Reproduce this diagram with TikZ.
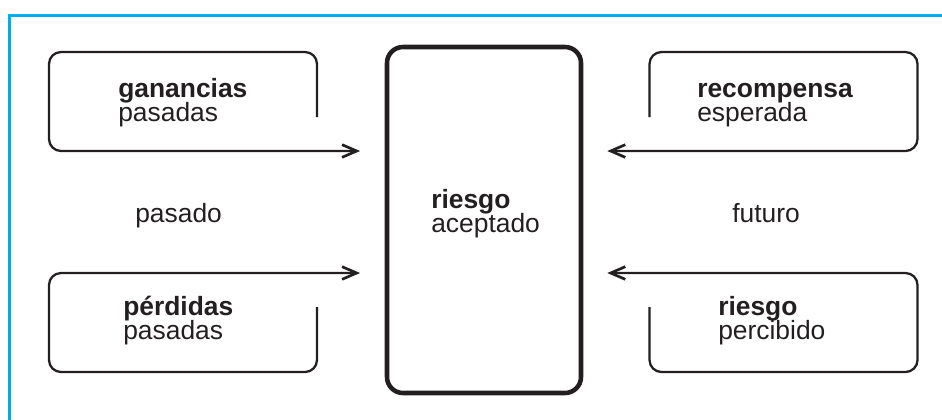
\documentclass[tikz,border=0pt]{standalone}
\usepackage{fontspec}
\setmainfont{Liberation Sans}
\usetikzlibrary{arrows.meta,calc}
\definecolor{ink}{RGB}{35,31,32}
\definecolor{framecyan}{RGB}{0,174,239}
\begin{document}
\begin{tikzpicture}[x=0.75pt,y=-0.75pt,
  boxframe/.style={minimum width=201pt,minimum height=74.25pt,inner sep=0pt,outer sep=0pt},
  loopline/.style={draw=ink,line width=1.7pt,rounded corners=9pt,
    -{Straight Barb[length=11pt,width=9.5pt,line width=2pt]}},
  txt/.style={anchor=base west,inner sep=0pt,align=left,text=ink,
    font={\fontsize{19.8pt}{18pt}\selectfont\lineskiplimit=-30pt}},
  side/.style={anchor=base west,inner sep=0pt,text=ink,
    font=\fontsize{19.8pt}{18pt}\selectfont}]
\useasboundingbox (0,0) rectangle (942,419);
\clip (0,0) rectangle (942,419);

% outer cyan frame
\draw[framecyan,line width=2.25pt] (9,440) -- (9,15) -- (960,15);

% central box
\node[draw=ink,line width=3.4pt,rounded corners=12pt,
      minimum width=145.5pt,minimum height=259.5pt,inner sep=0pt] (acc) at (484,220) {};
% (base anchor of a two-line node sits on its last line)
\node[txt] (acctext) at (431,232) {\textbf{riesgo}\\aceptado};

% frames of the four side boxes
\node[boxframe] (gan)  at (183,101.5) {};
\node[boxframe] (per)  at (183,322.5) {};
\node[boxframe] (rec)  at (783.5,101.5) {};
\node[boxframe] (perc) at (783.5,322.5) {};

% open loops ending in arrows toward the central box
\draw[loopline] ([yshift=-48.75pt]gan.north east) -- (gan.north east) -- (gan.north west)
  -- (gan.south west) -- ([xshift=-18.5pt]acc.west |- gan.south);
\draw[loopline] ([yshift=48.75pt]per.south east) -- (per.south east) -- (per.south west)
  -- (per.north west) -- ([xshift=-18.5pt]acc.west |- per.north);
\draw[loopline] ([yshift=-48.75pt]rec.north west) -- (rec.north west) -- (rec.north east)
  -- (rec.south east) -- ([xshift=18pt]acc.east |- rec.south);
\draw[loopline] ([yshift=48.75pt]perc.south west) -- (perc.south west) -- (perc.south east)
  -- (perc.north east) -- ([xshift=18pt]acc.east |- perc.north);

% box texts
\node[txt] (gantext)  at (118,121) {\textbf{ganancias}\\pasadas};
\node[txt] (pertext)  at (123,339) {\textbf{pérdidas}\\pasadas};
\node[txt] (rectext)  at (697,121) {\textbf{recompensa}\\esperada};
\node[txt] (perctext) at (718,339) {\textbf{riesgo}\\percibido};

% time labels
\node[side] (past)   at (135,222) {pasado};
\node[side] (future) at (732,222) {futuro};
\end{tikzpicture}
\end{document}
